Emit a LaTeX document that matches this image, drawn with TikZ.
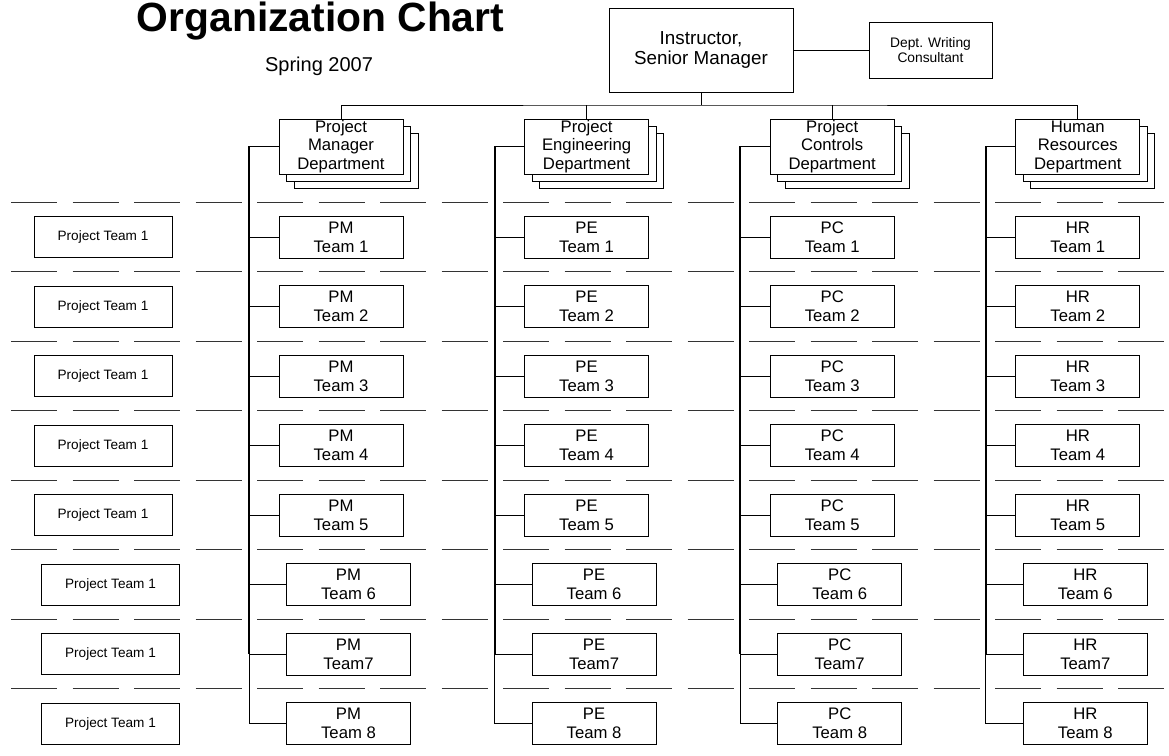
\documentclass[tikz,border=0pt]{standalone}
\usepackage{fontspec}
\setmainfont{Liberation Sans}
\usetikzlibrary{positioning,calc}

\begin{document}
\begin{tikzpicture}[x=1pt, y=-1pt,
 block/.style  = {draw, rectangle, fill=white, line width=0.9pt, inner sep=0pt, align=center},
 sblock/.style = {block, minimum width=124pt, minimum height=55pt},
 dblock/.style = {sblock, font=\fontsize{16.7pt}{18.5pt}\selectfont},
 tblock/.style = {block, minimum width=124pt, minimum height=42pt, font=\fontsize{16.7pt}{19pt}\selectfont},
 pblock/.style = {block, minimum width=138pt, minimum height=41pt, font=\fontsize{13.6pt}{16pt}\selectfont},
 link/.style   = {draw, line width=0.8pt},
 rail/.style   = {draw, line width=1.8pt},
 sep/.style    = {draw, line width=0.9pt, black!80, dash pattern=on 46pt off 15.5pt},
                        ]
\useasboundingbox (0,0) rectangle (1169,755);

% title
\node[anchor=base, font=\bfseries\fontsize{40.8pt}{46pt}\selectfont] (title) at (320.5,31) {Organization Chart};
\node[anchor=base, font=\fontsize{20pt}{24pt}\selectfont] (term) at (319,71.6) {Spring 2007};

% top of the chart
\node[block, minimum width=184pt, minimum height=84pt, font=\fontsize{18.8pt}{20.5pt}\selectfont] (inst) at (701,50) {Instructor,\\Senior Manager};
\node[block, minimum width=123pt, minimum height=56pt, font=\fontsize{13.8pt}{14.5pt}\selectfont] (cons) at (930.5,50) {Dept. Writing\\Consultant};
\coordinate (bus) at (701,105);

% row separators
\foreach \r in {0,...,7}
  \path[sep] (11,202+\r*69.5) -- (1164,202+\r*69.5);

% left column
\foreach \r in {1,...,8}{
  \pgfmathsetmacro{\px}{103+7.5*(\r>5)}
  \node[pblock] (pt\r) at (\px,167.5+\r*69.5) {Project Team 1};
}

% departments and their teams
\foreach \k/\abbr/\dname [count=\c from 0] in {pm/PM/{Project\\Manager\\Department},
                                               pe/PE/{Project\\Engineering\\Department},
                                               pc/PC/{Project\\Controls\\Department},
                                               hr/HR/{Human\\Resources\\Department}}{
  \pgfmathsetmacro{\cx}{341+\c*245.6}
  \node[sblock] at (\cx+15,161) {};
  \node[sblock] at (\cx+7.5,154) {};
  \node[dblock] (\k) at (\cx,146.5) {\dname};
  \coordinate (rail\k) at (\cx-92,146.5);
  \foreach \r in {1,...,8}{
    \pgfmathsetmacro{\tx}{\cx+7.5*(\r>5)}
    \ifnum\r=7 \def\tlab{Team7}\else\def\tlab{Team \r}\fi
    \node[tblock] (\k\r) at (\tx,167.5+\r*69.5) {\abbr\\\tlab};
    \path[link] (rail\k |- \k\r.west) -- (\k\r.west);
  }
  \path[rail] (\k.west) -- (rail\k) -- (rail\k |- \k7.west);
  \path[link] (rail\k |- \k7.west) -- (rail\k |- \k8.west);
}

\path[link] (inst) -- (bus);
\path[link] (pm.north) |- (bus) -| (hr.north);
\path[link] (pe.north) -- (pe.north |- bus);
\path[link] (pc.north) -- (pc.north |- bus);
\path[link] (inst) -- (cons);
\end{tikzpicture}
\end{document}
